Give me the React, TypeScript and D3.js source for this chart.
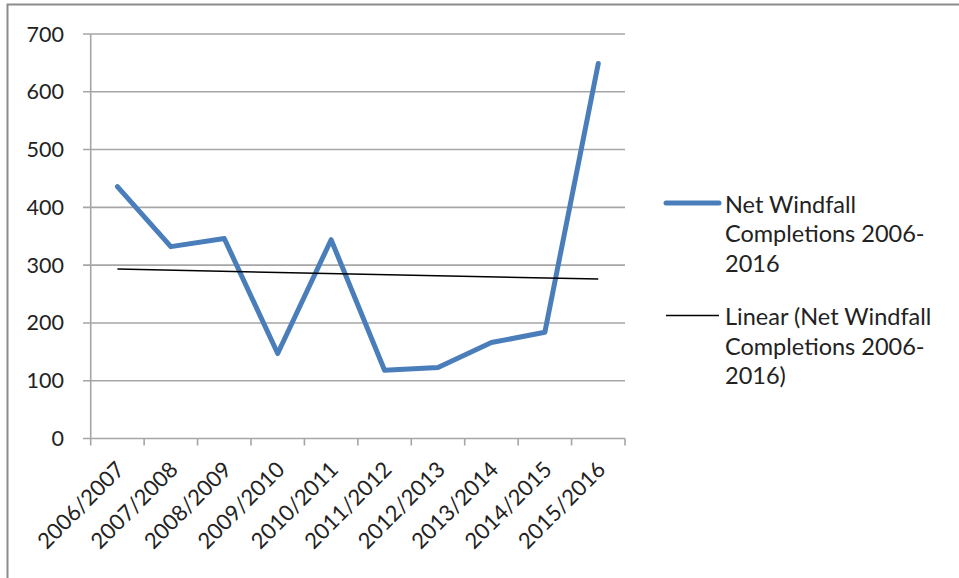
import React from "react";
import * as d3 from "d3";

const categories = ["2006/2007","2007/2008","2008/2009","2009/2010","2010/2011","2011/2012","2012/2013","2013/2014","2014/2015","2015/2016"];
const values = [436, 332, 346, 147, 344, 118, 123, 166, 184, 649];
const yTicks = [0, 100, 200, 300, 400, 500, 600, 700];
const legendSeries = ["Net Windfall", "Completions 2006-", "2016"];
const legendTrend = ["Linear (Net Windfall", "Completions 2006-", "2016)"];

const W = 959, H = 578;
const FONT = "Lato, 'Open Sans', sans-serif";

export default function App() {
  const x = d3.scaleBand<string>().domain(categories).range([90.7, 625]);
  const y = d3.scaleLinear().domain([0, 700]).range([438.5, 34]);
  const cx = (c: string) => (x(c) as number) + x.bandwidth() / 2;

  const line = d3.line<number>().x((_, i) => cx(categories[i])).y((v) => y(v));

  // linear trend (least squares)
  const n = values.length;
  const xs = values.map((_, i) => i + 1);
  const mx = d3.mean(xs) as number;
  const my = d3.mean(values) as number;
  const slope = d3.sum(xs.map((xi, i) => (xi - mx) * (values[i] - my))) / d3.sum(xs.map((xi) => (xi - mx) ** 2));
  const icpt = my - slope * mx;
  const t0 = icpt + slope * 1;
  const t1 = icpt + slope * n;

  const bandEdges = categories.map((c) => x(c) as number).concat([625]);

  return (
    <svg width={W} height={H} style={{ position: "absolute", left: 0, top: 0, background: "#fff" }}>
      <rect x={7.5} y={4.5} width={W + 10} height={H + 10} fill="#fff" stroke="#8c8c8c" strokeWidth={2} />
      {/* gridlines */}
      {yTicks.map((t) => (
        <line key={t} x1={83} x2={625} y1={y(t)} y2={y(t)} stroke="#a6a6a6" strokeWidth={1.6} />
      ))}
      {/* y axis */}
      <line x1={90.7} x2={90.7} y1={y(700)} y2={y(0)} stroke="#a6a6a6" strokeWidth={1.6} />
      {/* x ticks */}
      {bandEdges.map((e, i) => (
        <line key={i} x1={e} x2={e} y1={y(0)} y2={y(0) + 7} stroke="#a6a6a6" strokeWidth={1.6} />
      ))}
      {/* y labels */}
      {yTicks.map((t) => (
        <text key={t} x={64} y={y(t)} dy="0.35em" textAnchor="end" fontFamily={FONT} fontSize={21.5} fill="#222">
          {t}
        </text>
      ))}
      {/* x labels */}
      {categories.map((c) => (
        <text
          key={c}
          transform={`translate(${cx(c) + 3},${y(0) + 27}) rotate(-45)`}
          textAnchor="end"
          dy="0.35em"
          fontFamily={FONT}
          fontSize={22}
          fill="#222"
        >
          {c}
        </text>
      ))}
      {/* series */}
      <path d={line(values) as string} fill="none" stroke="#4a7ebb" strokeWidth={5} strokeLinejoin="round" strokeLinecap="round" />
      {/* trend */}
      <line x1={cx(categories[0])} x2={cx(categories[n - 1])} y1={y(t0)} y2={y(t1)} stroke="#000" strokeWidth={1.5} />
      {/* legend */}
      <line x1={666} x2={719} y1={203} y2={203} stroke="#4a7ebb" strokeWidth={5} strokeLinecap="round" />
      {legendSeries.map((s, i) => (
        <text key={i} x={725} y={212.5 + i * 29.5} fontFamily={FONT} fontSize={23.5} fill="#222">{s}</text>
      ))}
      <line x1={666} x2={719} y1={315.5} y2={315.5} stroke="#000" strokeWidth={1.5} />
      {legendTrend.map((s, i) => (
        <text key={i} x={725} y={325 + i * 29.5} fontFamily={FONT} fontSize={23.5} fill="#222">{s}</text>
      ))}
    </svg>
  );
}
